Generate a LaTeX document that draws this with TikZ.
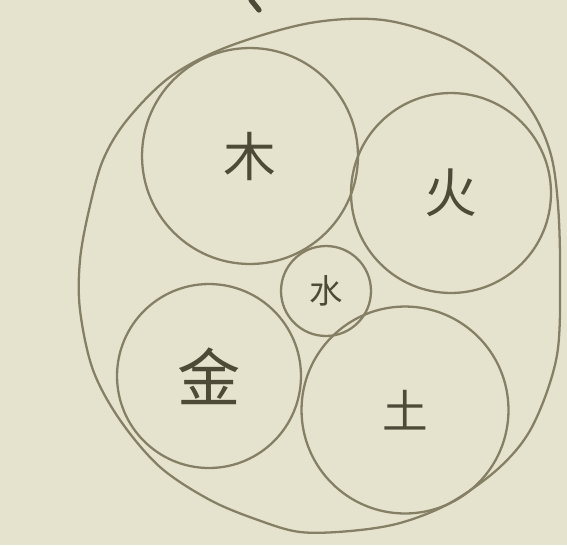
\documentclass[tikz,border=0pt]{standalone}
\usepackage{fontspec}
\newfontfamily\cjk{Noto Sans CJK SC}
\usetikzlibrary{calc}

\definecolor{paper}{HTML}{E5E3CE}
\definecolor{pencil}{HTML}{857F66}
\definecolor{ink}{HTML}{4E4A38}

\begin{document}
\begin{tikzpicture}[x=0.02cm, y=-0.02cm,
  elem/.style = {circle, draw=pencil, line width=1.3pt, inner sep=0,
                 text=ink},
  big/.style  = {font=\cjk\fontsize{30}{30}\selectfont},
  small/.style = {font=\cjk\fontsize{19}{19}\selectfont},
]
% -- paper --
\fill[paper] (0,0) rectangle (567,545);
\useasboundingbox (0,0) rectangle (567,545);
% -- outer ring --
\draw[pencil, line width=1.3pt] plot[smooth cycle, tension=0.55] coordinates {
  (383,20) (450,40) (500,73) (533,113) (551,155) (558,205) (560,270)
  (557,355) (533,425) (500,467) (450,503) (400,523) (350,531) (300,532)
  (258,520) (210,500) (160,467) (120,420) (93,370) (80,310) (80,260)
  (89,210) (103,160) (127,120) (170,77) (227,47) (310,23)};
% -- the five --
\node[elem, big, minimum size=4.32cm] (mu)   at (250,156) {木};
\node[elem, big, minimum size=4.0cm]  (huo)  at (451,193) {火};
\node[elem, small, minimum size=1.8cm] (shui) at (326,291) {水};
\node[elem, big, minimum size=3.68cm] (jin)  at (209,376) {\fontsize{36}{36}\selectfont 金};
\node[elem, big, minimum size=4.14cm] (tu)   at (405,410) {\fontsize{26}{26}\selectfont 土};
% -- mark at top --
\draw[ink, line width=3pt, line cap=round] (251,0) -- (259,10);
\end{tikzpicture}
\end{document}
